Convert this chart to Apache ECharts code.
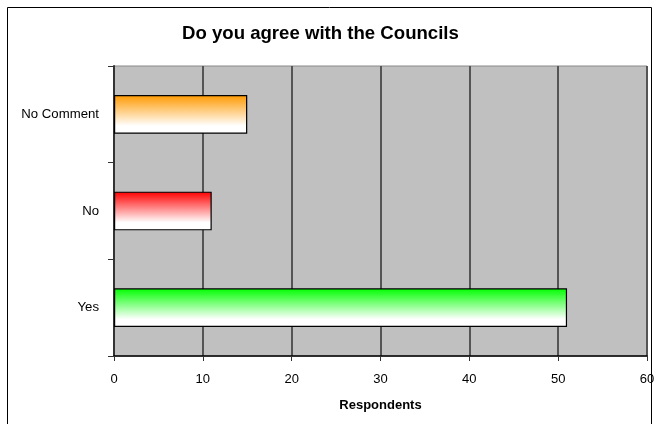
<!DOCTYPE html>
<html>
<head>
<meta charset="utf-8">
<script src="https://cdn.jsdelivr.net/npm/echarts@6/dist/echarts.min.js"></script>
<style>
html,body{margin:0;padding:0;background:#fff;}
#chart{width:659px;height:424px;}
</style>
</head>
<body>
<div id="chart"></div>
<script>
var categories = ['Yes', 'No', 'No Comment'];
var values = [51, 11, 15];
var barColors = ['#00ff00', '#ff0000', '#ff9900'];
var xTicks = [0, 10, 20, 30, 40, 50, 60];

var chart = echarts.init(document.getElementById('chart'), null, {renderer: 'canvas'});

function grad(c) {
  return new echarts.graphic.LinearGradient(0, 0, 0, 1, [
    {offset: 0, color: c},
    {offset: 0.8, color: '#ffffff'},
    {offset: 1, color: '#ffffff'}
  ]);
}

var option = {
  animation: false,
  backgroundColor: '#ffffff',
  title: {
    text: 'Do you agree with the Councils',
    left: 177,
    top: 19,
    textStyle: {fontFamily: 'Liberation Sans, Arial, sans-serif', fontSize: 18.6, fontWeight: 'bold', color: '#000'}
  },
  graphic: [{
    type: 'rect',
    shape: {x: 7.5, y: 7.5, width: 644, height: 440},
    style: {fill: 'none', stroke: '#000', lineWidth: 1},
    z: 100, silent: true
  }],
  grid: {
    left: 114, top: 66, right: 12, bottom: 68,
    show: true,
    backgroundColor: '#c0c0c0',
    borderColor: '#888',
    borderWidth: 1
  },
  xAxis: {
    type: 'value',
    min: 0, max: 60, interval: 10,
    name: 'Respondents',
    nameLocation: 'middle',
    nameGap: 43,
    nameTextStyle: {fontFamily: 'Liberation Sans, Arial, sans-serif', fontSize: 13, fontWeight: 'bold', color: '#000'},
    axisLine: {show: true, lineStyle: {color: '#000', width: 1.5}},
    axisTick: {show: true, length: 5, lineStyle: {color: '#333'}},
    axisLabel: {
      fontFamily: 'Liberation Sans, Arial, sans-serif', fontSize: 13, color: '#000', margin: 17,
      formatter: function (v) { return xTicks.indexOf(v) >= 0 ? String(v) : ''; }
    },
    splitLine: {show: true, lineStyle: {color: '#555', width: 2}}
  },
  yAxis: {
    type: 'category',
    data: categories,
    axisLine: {show: true, lineStyle: {color: '#333', width: 2}},
    axisTick: {show: true, length: 6, lineStyle: {color: '#333'}},
    axisLabel: {fontFamily: 'Liberation Sans, Arial, sans-serif', fontSize: 13.2, color: '#000', margin: 15},
    splitLine: {show: false}
  },
  series: [{
    type: 'bar',
    barWidth: '40%',
    data: values.map(function (v, i) {
      return {value: v, itemStyle: {color: grad(barColors[i]), borderColor: '#000', borderWidth: 1.2}};
    })
  }]
};
chart.setOption(option);
</script>
</body>
</html>
